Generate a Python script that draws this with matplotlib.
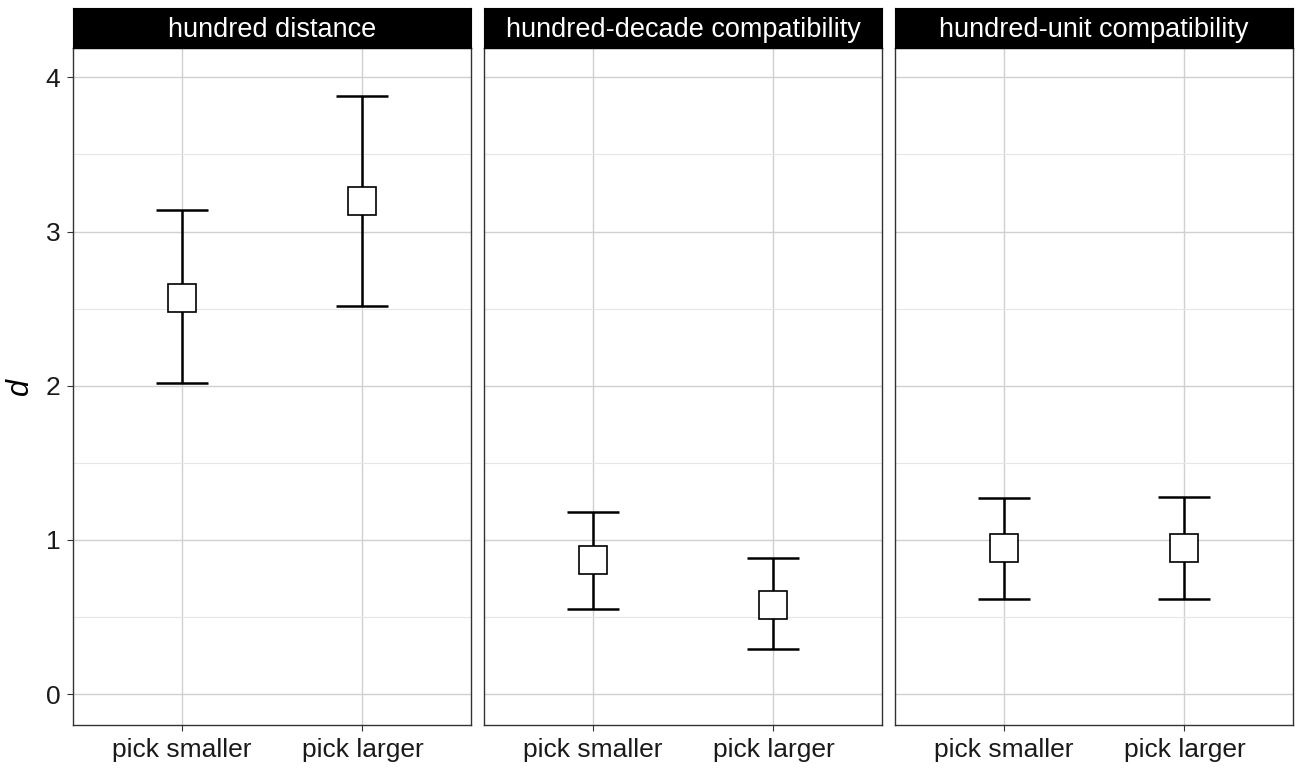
import matplotlib.pyplot as plt
import numpy as np

plt.rcParams['font.family'] = ['Liberation Sans', 'DejaVu Sans']

# facets and conditions
panels = ["hundred distance", "hundred-decade compatibility", "hundred-unit compatibility"]
conditions = ["pick smaller", "pick larger"]

# effect size d with lower / upper CI, per panel (pick smaller, pick larger)
d_mean = [[2.57, 3.20], [0.87, 0.58], [0.95, 0.95]]
d_low = [[2.02, 2.52], [0.55, 0.29], [0.62, 0.62]]
d_high = [[3.14, 3.88], [1.18, 0.88], [1.27, 1.28]]

fig = plt.figure(figsize=(12.99, 7.72), dpi=100)

left0 = 73 / 1299
pw = 398 / 1299
gap = 13 / 1299
bottom = 1 - 725 / 772
top = 1 - 48 / 772
strip_h = 40 / 772

grid_col = '#d0d0d0'
for k, name in enumerate(panels):
    x0 = left0 + k * (pw + gap)
    ax = fig.add_axes([x0, bottom, pw, top - bottom])
    xs = np.arange(1, len(conditions) + 1)
    m = np.array(d_mean[k])
    lo = m - np.array(d_low[k])
    hi = np.array(d_high[k]) - m
    ax.errorbar(xs, m, yerr=[lo, hi], fmt='none', ecolor='black',
                elinewidth=1.8, capsize=19, capthick=1.8, zorder=3)
    ax.plot(xs, m, 's', ms=19.5, mfc='white', mec='black', mew=1.2, zorder=4)

    ax.set_xlim(0.4, 2.6)
    ax.set_ylim(-0.2, 4.19)
    ax.set_xticks(xs)
    ax.set_xticklabels(conditions, fontsize=19, color='#1a1a1a')
    ax.set_yticks([0, 1, 2, 3, 4])
    ax.set_yticks([0.5, 1.5, 2.5, 3.5], minor=True)
    ax.grid(True, which='major', color=grid_col, lw=1.0, zorder=0)
    ax.grid(True, which='minor', axis='y', color='#e6e6e6', lw=0.8, zorder=0)
    ax.tick_params(axis='both', which='major', length=4, color='#333333', width=0.8, pad=5)
    ax.tick_params(axis='y', which='minor', length=0)
    ax.tick_params(axis='y', labelsize=19, labelcolor='#1a1a1a')
    for s in ax.spines.values():
        s.set_color('#333333')
        s.set_linewidth(1.0)
    if k == 0:
        ax.set_ylabel('d', fontsize=22, style='italic', labelpad=8)
    else:
        ax.set_yticklabels([])
        ax.tick_params(axis='y', which='major', length=0)

    # facet strip
    sax = fig.add_axes([x0, top, pw, strip_h])
    sax.set_facecolor('black')
    sax.set_xticks([])
    sax.set_yticks([])
    for s in sax.spines.values():
        s.set_color('black')
    sax.text(0.5, 0.45, name, color='white', fontsize=19.5,
             ha='center', va='center', transform=sax.transAxes)

fig.savefig('out.png', dpi=100)
